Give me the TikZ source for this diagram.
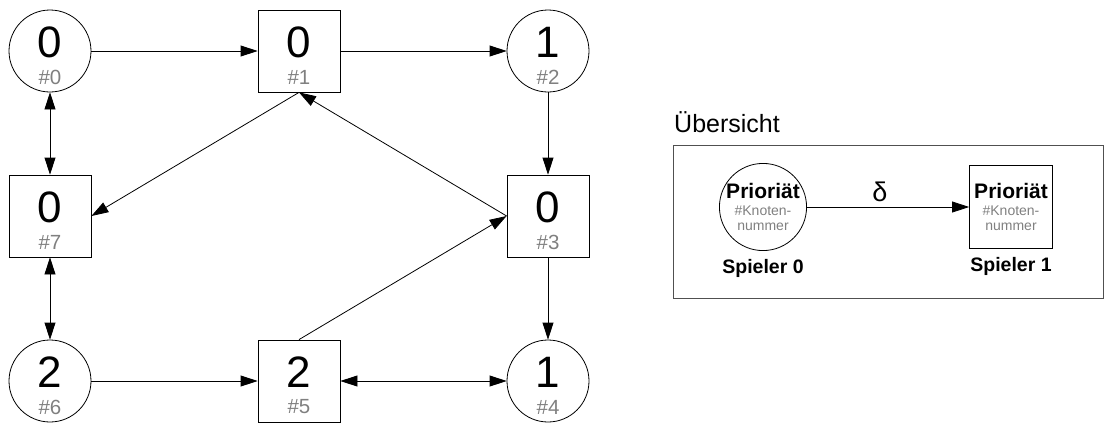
\documentclass[tikz,border=0pt]{standalone}
\usepackage{fontspec}
\setmainfont{Liberation Sans}
\usepackage{xcolor}
\definecolor{IdGray}{HTML}{808080}
\definecolor{FrameGray}{HTML}{505050}
\usetikzlibrary{arrows.meta, positioning, shapes.geometric}

\begin{document}
\begin{tikzpicture}[
  x=1pt, y=-1pt,
  node distance=165pt and 249pt,
  even/.style={circle, draw, line width=0.8pt, minimum size=82pt, inner sep=0pt,
               font=\fontsize{44}{44}\selectfont, text height=31.5pt, text depth=18pt},
  odd/.style={rectangle, draw, line width=0.8pt, minimum size=82pt, inner sep=0pt,
              font=\fontsize{44}{44}\selectfont, text height=31.5pt, text depth=18pt},
  idtext/.style={font=\fontsize{20.5}{20.5}\selectfont, text=IdGray, yshift=-26pt},
  legend/.style={draw, line width=0.8pt, minimum size=83pt, inner sep=0pt, align=center,
                 font=\fontsize{14}{15}\selectfont},
  spieler/.style={font=\fontsize{19.5}{19.5}\selectfont\bfseries, inner sep=0pt},
  edge/.style={-{Triangle[length=17pt, width=11pt]}, line width=0.8pt},
  twoway/.style={{Triangle[length=17pt, width=11pt]}-{Triangle[length=17pt, width=11pt]}, line width=0.8pt}
]
  \useasboundingbox (0,0) rectangle (1104,426);

  % game graph
  \begin{scope}[on grid]
    \node[even, label={[idtext]center:\#0}] (n0) at (50,51) {0};
    \node[odd,  label={[idtext]center:\#1}, right=of n0] (n1) {0};
    \node[even, label={[idtext]center:\#2}, right=of n1] (n2) {1};
    \node[odd,  label={[idtext]center:\#7}, below=of n0] (n7) {0};
    \node[odd,  label={[idtext]center:\#3}, below=of n2] (n3) {0};
    \node[even, label={[idtext]center:\#6}, below=of n7] (n6) {2};
    \node[odd,  label={[idtext]center:\#5}, right=of n6] (n5) {2};
    \node[even, label={[idtext]center:\#4}, right=of n5] (n4) {1};
  \end{scope}

  \draw[edge] (n0) -- (n1);
  \draw[edge] (n1) -- (n2);
  \draw[edge] (n2) -- (n3);
  \draw[edge] (n3) -- (n4);
  \draw[edge] (n6) -- (n5);
  \draw[twoway] (n0) -- (n7);
  \draw[twoway] (n7) -- (n6);
  \draw[twoway] (n5) -- (n4);
  \draw[edge] (n1.south) -- (n7.east);
  \draw[edge] (n3.west) -- (n1.south);
  \draw[edge] (n5.north) -- (n3.west);

  % legend
  \node[anchor=base west, font=\fontsize{25}{25}\selectfont, inner sep=0pt] (title) at (674,132) {Übersicht};
  \draw[FrameGray, line width=0.8pt] (673,145) rectangle (1103,298);

  \node[legend, circle] (p0) at (763,207) {{\fontsize{21}{21}\selectfont\bfseries Prioriät}\\[2pt]
    {\color{IdGray}\#Knoten-}\\{\color{IdGray}nummer}};
  \node[legend, rectangle] (p1) at (1011,207) {{\fontsize{21}{21}\selectfont\bfseries Prioriät}\\[2pt]
    {\color{IdGray}\#Knoten-}\\{\color{IdGray}nummer}};
  \node[spieler, below=8pt of p0] (s0) {Spieler 0};
  \node[spieler, below=8pt of p1] (s1) {Spieler 1};

  \draw[edge] (p0) -- node[pos=0.45, above=2pt, font=\fontsize{27}{27}\selectfont] {δ} (p1);
\end{tikzpicture}
\end{document}
